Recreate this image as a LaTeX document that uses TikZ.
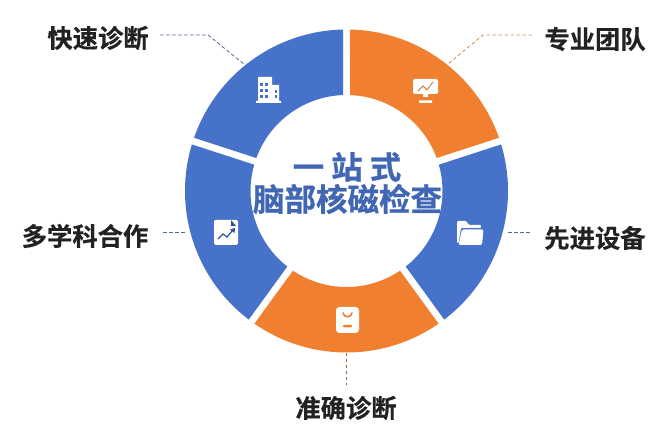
\documentclass[tikz,border=0pt]{standalone}
\usepackage{fontspec}
\setmainfont{Noto Sans CJK SC}[BoldFont={* Bold}]
\definecolor{ringblue}{HTML}{4672CA}
\definecolor{ringorange}{HTML}{F08030}
\definecolor{labelink}{HTML}{222222}
\definecolor{titleblue}{HTML}{4066B4}
\definecolor{leadgrey}{HTML}{4F6A9A}
\definecolor{leadorange}{HTML}{D08A50}
\newcommand{\ringsector}[3]{%
  \fill[#3] ({346.5+161.5*cos(#1+1.24)},{244+161.5*sin(#1+1.24)})
    arc[start angle=#1+1.24,end angle=#2-1.24,radius=161.5]
    -- ({346.5+96*cos(#2-2.09)},{244+96*sin(#2-2.09)})
    arc[start angle=#2-2.09,end angle=#1+2.09,radius=96] -- cycle;}
\tikzset{
  x=1pt,y=1pt,
  lab/.style={font=\bfseries\fontsize{25.3}{27}\selectfont\addfontfeatures{FakeBold=0.4},text=labelink,inner sep=0pt},
  title/.style={font=\bfseries\fontsize{31.5}{33}\selectfont\addfontfeatures{FakeBold=0.8},text=titleblue,inner sep=0pt},
  lead/.style={line width=.8pt,dash pattern=on 3.5pt off 2.5pt},
  ico/.style={fill=white,draw=none}
}
\begin{document}
\begin{tikzpicture}
\useasboundingbox (0,0) rectangle (666,435);
\ringsector{18}{90}{ringorange}
\ringsector{90}{162}{ringblue}
\ringsector{162}{234}{ringblue}
\ringsector{234}{306}{ringorange}
\ringsector{306}{378}{ringblue}
% labels
\node[lab] (a) at (98,397) {快速诊断};
\node[lab] (b) at (595,396) {专业团队};
\node[lab] (c) at (85,199) {多学科合作};
\node[lab] (d) at (595,197) {先进设备};
\node[lab] (e) at (346,27) {准确诊断};
\node[title] (t1) at (347,268) {一\hspace{7pt}站\hspace{7pt}式};
\node[title] (t2) at (347.5,236) {脑部核磁检查};
% leaders
\coordinate (a0) at (160,400); \coordinate (a1) at (208,400); \coordinate (a2) at (245,370);
\coordinate (b0) at (532,400); \coordinate (b1) at (483,400); \coordinate (b2) at (448,371);
\coordinate (c0) at (163,203); \coordinate (c1) at (185,203);
\coordinate (d0) at (508,203); \coordinate (d1) at (530,203);
\coordinate (e0) at (346.5,82); \coordinate (e1) at (346.5,50);
\draw[lead,leadgrey] (a0) -- (a1) -- (a2);
\draw[lead,leadorange] (b0) -- (b1) -- (b2);
\draw[lead,leadgrey] (c0) -- (c1);
\draw[lead,leadgrey] (d0) -- (d1);
\draw[lead,leadorange!70!black] (e0) -- (e1);
% building icon
\fill[ico] (258,333) rectangle (272,358) (272,333) rectangle (279,350) (256,332) rectangle (281,334);
\foreach \r in {0,1,2}{\foreach \c in {0,1}{
  \fill[ringblue] ({260+\c*5},{337+\r*6}) rectangle ++(3.4,3);}}
\foreach \r in {0,1}{\fill[ringblue] (274.5,{337+\r*5}) rectangle ++(2,3);}
% monitor icon
\fill[ico,rounded corners=2pt] (413,341) rectangle (438,356);
\fill[ico] (423,338) rectangle (428,341) (419,332) rectangle (432,334.5);
\draw[ringorange!85!black,line width=.8pt] (418,344) -- (423,349) -- (427,345) -- (433,353);
% document icon
\fill[ico,rounded corners=1.5pt] (214,190) rectangle (238,215);
\fill[ringblue!70!black] (231,215) -- (236,209) -- (231,209) -- cycle;
\draw[ringblue!70!black,line width=1.2pt] (218,196) -- (223,201) -- (227,198) -- (233,205);
\fill[ringblue!70!black] (235,207) -- (230,205.5) -- (234.5,202) -- cycle;
% folder icon
\fill[ico,rounded corners=1pt] (457,192) -- (457,214) -- (466,214) -- (469,210) -- (481,210) -- (481,207) -- (461,207) -- (458.5,192) -- cycle;
\fill[ico,rounded corners=1.5pt] (458.5,190) -- (482,190) -- (483.5,205.5) -- (462,205.5) -- cycle;
% badge icon
\fill[ico,rounded corners=3.5pt] (336,102) rectangle (359,128);
\draw[ringorange,line width=1.7pt,line cap=round] (343,122) .. controls (344,117) and (351,117) .. (352,122);
\fill[ringorange,rounded corners=.8pt] (343,107.5) rectangle (352,110);
\end{tikzpicture}
\end{document}
